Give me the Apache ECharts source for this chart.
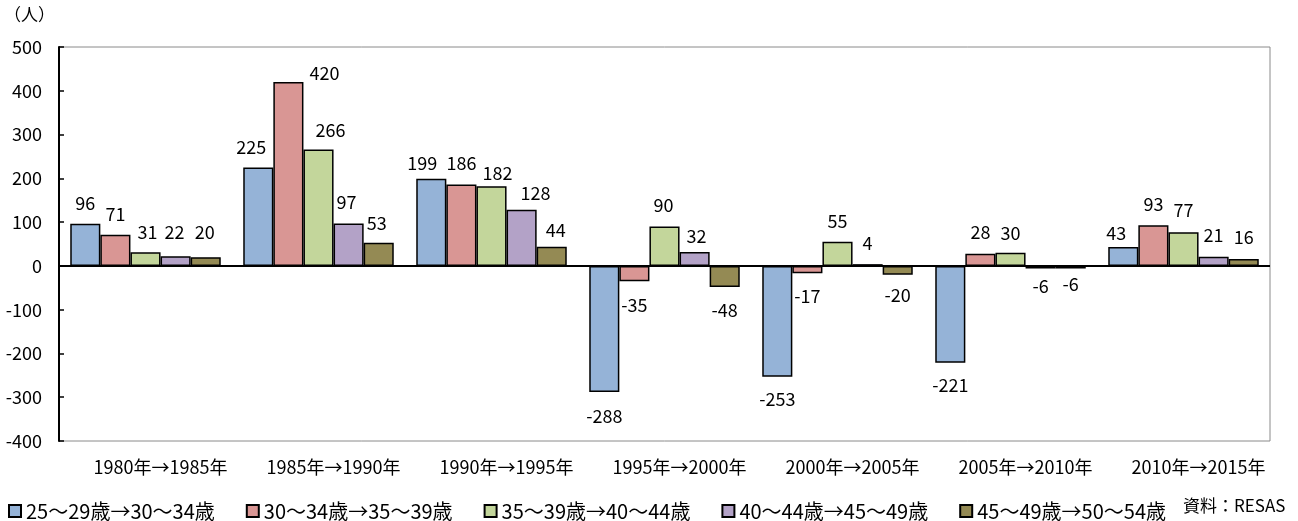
<!DOCTYPE html>
<html>
<head>
<meta charset="utf-8">
<script src="https://cdn.jsdelivr.net/npm/echarts@6/dist/echarts.min.js"></script>
<style>html,body{margin:0;padding:0;background:#fff}#c{width:1298px;height:521px}</style>
</head>
<body>
<div id="c"></div>
<script>
const categories = ['1980年→1985年','1985年→1990年','1990年→1995年','1995年→2000年','2000年→2005年','2005年→2010年','2010年→2015年'];
const seriesNames = ['25〜29歳→30〜34歳','30〜34歳→35〜39歳','35〜39歳→40〜44歳','40〜44歳→45〜49歳','45〜49歳→50〜54歳'];
const s1 = [96, 225, 199, -288, -253, -221, 43];
const s2 = [71, 420, 186, -35, -17, 28, 93];
const s3 = [31, 266, 182, 90, 55, 30, 77];
const s4 = [22, 97, 128, 32, 4, -6, 21];
const s5 = [20, 53, 44, -48, -20, -6, 16];
const yTicks = [-400, -300, -200, -100, 0, 100, 200, 300, 400, 500];
const sourceNote = '資料：RESAS';
const unitLabel = '（人）';

// style: per-label nudges (px) mimicking the original label placement
const labelNudge = [
  [[0,0],[-7,1],[-9,5],[0,1],[0,0],[0,0],[-7,7]],
  [[0,0],[36,12],[0,0],[0,1],[0,0],[0,0],[0,0]],
  [[2,1],[12,2],[6,8],[-1,0],[0,0],[0,1],[0,-1]],
  [[-1,-3],[-2,0],[14,4],[2,5],[0,0],[0,-5],[0,-1]],
  [[-1,-4],[-2,1],[4,5],[0,0],[0,-2],[0,-7],[0,-1]]
];
const colors = ['#95B3D7','#D99694','#C3D69B','#B3A2C7','#948A54'];
const FONT = '"Noto Sans CJK JP", "Noto Sans", sans-serif';

const allData = [s1, s2, s3, s4, s5];
const chart = echarts.init(document.getElementById('c'));
const series = allData.map((d, i) => ({
  name: seriesNames[i],
  type: 'bar',
  data: d.map((v, j) => ({
    value: v,
    label: { position: v >= 0 ? 'top' : 'bottom', distance: v >= 0 ? 12 : 14, offset: labelNudge[i][j] }
  })),
  barGap: '0%',
  barCategoryGap: '13%',
  itemStyle: { color: colors[i], borderColor: '#000', borderWidth: 1.5 },
  label: { show: true, fontSize: 18, color: '#000', fontFamily: FONT },
  markLine: i === 0 ? {
    silent: true, symbol: 'none', label: { show: false },
    lineStyle: { color: '#000', width: 2, type: 'solid' },
    data: [{ yAxis: 0 }]
  } : undefined,
  z: 2
}));

chart.setOption({
  animation: false,
  textStyle: { fontFamily: FONT },
  grid: { left: 59, right: 28, top: 47, bottom: 80, show: true, borderColor: '#8a8a8a', borderWidth: 1, backgroundColor: 'transparent' },
  legend: {
    left: 8, top: 501, padding: 0, itemWidth: 12, itemHeight: 12, itemGap: 31,
    icon: 'rect',
    textStyle: { fontSize: 20, color: '#000', fontFamily: FONT },
    data: seriesNames
  },
  graphic: [
    { type: 'text', left: 4, top: 6, style: { text: unitLabel, fontSize: 17, fill: '#000', fontFamily: FONT } },
    { type: 'text', left: 1183, top: 497, style: { text: sourceNote, fontSize: 17, fill: '#000', fontFamily: FONT } }
  ],
  xAxis: {
    type: 'category', data: categories,
    axisLine: { show: false, onZero: false },
    axisTick: { show: false },
    axisLabel: { interval: 0, color: '#000', fontSize: 18, margin: 17, padding: [0,0,0,30], fontFamily: FONT }
  },
  yAxis: {
    type: 'value', min: yTicks[0], max: yTicks[yTicks.length-1], interval: 100,
    axisLine: { show: true, lineStyle: { color: '#000', width: 2 } },
    axisTick: { show: true, inside: true, length: 5, lineStyle: { color: '#000', width: 1.5 } },
    splitLine: { show: false },
    axisLabel: { color: '#000', fontSize: 18, margin: 17, fontFamily: FONT }
  },
  series
});
</script>
</body>
</html>
